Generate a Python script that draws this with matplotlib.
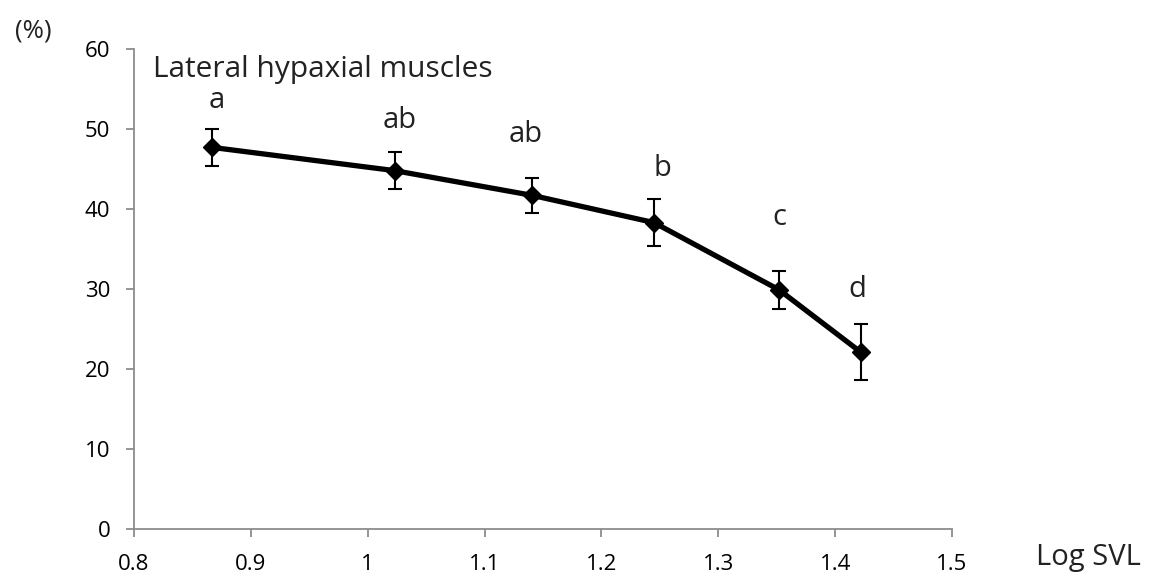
import matplotlib
matplotlib.use("Agg")
import matplotlib.pyplot as plt

log_svl = [0.867, 1.023, 1.141, 1.245, 1.352, 1.422]
percent = [47.7, 44.8, 41.7, 38.3, 29.9, 22.1]
se = [2.3, 2.3, 2.15, 2.9, 2.4, 3.5]
letters = ["a", "ab", "ab", "b", "c", "d"]
letter_y = [53.6, 51.1, 49.3, 45.1, 39.0, 30.0]
letter_dx = [0.004, 0.004, -0.006, 0.007, 0.0, -0.003]
x_ticks = [0.8, 0.9, 1.0, 1.1, 1.2, 1.3, 1.4, 1.5]
x_tick_labels = ["0.8", "0.9", "1", "1.1", "1.2", "1.3", "1.4", "1.5"]
y_ticks = [0, 10, 20, 30, 40, 50, 60]

plt.rcParams['font.family'] = ['Open Sans', 'DejaVu Sans']

fig = plt.figure(figsize=(11.52, 5.85), dpi=100)
ax = fig.add_axes([0.1163, 0.0957, 0.8264 - 0.1163, 0.9162 - 0.0957])

ax.errorbar(log_svl, percent, yerr=se, color='black', lw=3.8, marker='D',
            markersize=9.5, ecolor='black', elinewidth=1.5, capsize=5,
            capthick=1.5, zorder=3)

for xv, yv, t, dx in zip(log_svl, letter_y, letters, letter_dx):
    ax.text(xv + dx, yv, t, ha='center', va='center', fontsize=21, color='#222222')

ax.set_xlim(0.8, 1.5)
ax.set_ylim(0, 60)
ax.set_xticks(x_ticks)
ax.set_xticklabels(x_tick_labels)
ax.set_yticks(y_ticks)
for s in ['top', 'right']:
    ax.spines[s].set_visible(False)
for s in ['left', 'bottom']:
    ax.spines[s].set_color('#8c8c8c')
    ax.spines[s].set_linewidth(1.3)
ax.tick_params(axis='both', direction='out', length=6, width=1.3, color='#8c8c8c',
               labelsize=16, labelcolor='black')
ax.tick_params(axis='y', pad=11)
ax.tick_params(axis='x', pad=12)

ax.text(0.816, 57.4, "Lateral hypaxial muscles", fontsize=21.5, color='#222222',
        ha='left', va='center')

fig.text(33 / 1152, 1 - 31 / 585, "(%)", fontsize=18.5, ha='center', va='center',
         color='#222222')
fig.text(1088 / 1152, 1 - 557 / 585, "Log SVL", fontsize=21, ha='center', va='center',
         color='#222222')

fig.savefig("out.png", dpi=100)
